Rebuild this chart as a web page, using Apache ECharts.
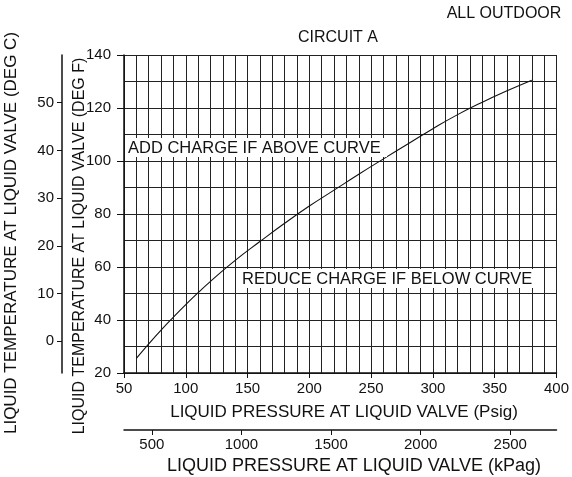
<!DOCTYPE html>
<html>
<head>
<meta charset="utf-8">
<script src="https://cdn.jsdelivr.net/npm/echarts@6/dist/echarts.min.js"></script>
<style>
  html, body { margin: 0; padding: 0; background: #fff; }
  #chart { width: 572px; height: 477px; }
</style>
</head>
<body>
<div id="chart"></div>
<script>
// Charging curve: liquid pressure (psig) vs liquid temperature (deg F)
const pressurePsig = [60, 70, 80, 90, 100, 110, 120, 140, 160, 180, 200, 220, 240, 260, 280, 300, 320, 340, 360, 380];
const tempF = [25.5, 31, 36.2, 41.1, 45.8, 50.3, 54.6, 62.5, 69.6, 76.5, 83, 89, 95, 100.8, 106.5, 112.2, 117.5, 122.2, 126.5, 130.5];

const psigTicks = [50, 100, 150, 200, 250, 300, 350, 400];
const degFTicks = [20, 40, 60, 80, 100, 120, 140];
const degCTicks = [0, 10, 20, 30, 40, 50];
const kPagTicks = [500, 1000, 1500, 2000, 2500];

const PSI_TO_KPA = 6.894757;
const F_MIN = 20, F_MAX = 140, P_MIN = 50, P_MAX = 400;
const GRID_STEP = 10;

const FONT = 'Liberation Sans, Arial, sans-serif';
const ink = '#111';

const chart = echarts.init(document.getElementById('chart'), null, { renderer: 'canvas' });

const tickLabel = { color: ink, fontFamily: FONT, fontSize: 15 };
const hidden = { axisLine: { show: false }, axisTick: { show: false }, axisLabel: { show: false } };

chart.setOption({
  backgroundColor: '#fff',
  animation: false,
  grid: { left: 124, right: 15, top: 55, bottom: 104 },
  xAxis: [
    {
      type: 'value', min: P_MIN, max: P_MAX,
      axisLine: { show: true, onZero: false, lineStyle: { color: ink, width: 1.5 } },
      axisTick: { show: true, length: 5, customValues: psigTicks, lineStyle: { color: ink } },
      axisLabel: Object.assign({ margin: 8, customValues: psigTicks }, tickLabel),
      splitLine: { show: false }
    },
    {
      type: 'value', position: 'bottom', offset: 57,
      min: P_MIN * PSI_TO_KPA, max: P_MAX * PSI_TO_KPA,
      axisLine: { show: true, onZero: false, lineStyle: { color: ink, width: 1.5 } },
      axisTick: { show: true, length: 5, customValues: kPagTicks, lineStyle: { color: ink } },
      axisLabel: Object.assign({ margin: 7, customValues: kPagTicks, formatter: v => String(v) }, tickLabel),
      splitLine: { show: false }
    },
    // 10 psig grid lines
    Object.assign({
      type: 'value', min: P_MIN, max: P_MAX, interval: GRID_STEP,
      splitLine: { show: true, lineStyle: { color: '#222', width: 1 } }
    }, hidden)
  ],
  yAxis: [
    {
      type: 'value', min: F_MIN, max: F_MAX,
      axisLine: { show: true, onZero: false, lineStyle: { color: ink, width: 1.5 } },
      axisTick: { show: true, length: 7, customValues: degFTicks, lineStyle: { color: ink } },
      axisLabel: Object.assign({ margin: 13, customValues: degFTicks }, tickLabel),
      splitLine: { show: false }
    },
    {
      type: 'value', position: 'left', offset: 62,
      min: (F_MIN - 32) * 5 / 9, max: (F_MAX - 32) * 5 / 9,
      axisLine: { show: true, onZero: false, lineStyle: { color: ink, width: 1.5 } },
      axisTick: { show: true, length: 5, customValues: degCTicks, lineStyle: { color: ink } },
      axisLabel: Object.assign({ margin: 8, customValues: degCTicks }, tickLabel),
      splitLine: { show: false }
    },
    // 10 deg F grid lines
    Object.assign({
      type: 'value', min: F_MIN, max: F_MAX, interval: GRID_STEP,
      splitLine: { show: true, lineStyle: { color: '#222', width: 1 } }
    }, hidden)
  ],
  series: [
    {
      type: 'line',
      xAxisIndex: 0, yAxisIndex: 0,
      data: pressurePsig.map((p, i) => [p, tempF[i]]),
      smooth: 0.5,
      symbol: 'none',
      lineStyle: { color: ink, width: 1.1 },
      z: 5
    }
  ],
  graphic: [
    // white boxes behind the in-plot notes
    { type: 'rect', shape: { x: 125, y: 138, width: 262, height: 19 }, style: { fill: '#fff' }, z: 50 },
    { type: 'text', x: 128, y: 148, z: 51,
      style: { text: 'ADD CHARGE IF ABOVE CURVE', font: '16.5px ' + FONT, fill: ink, align: 'left', verticalAlign: 'middle' } },
    { type: 'rect', shape: { x: 238, y: 269, width: 304, height: 19 }, style: { fill: '#fff' }, z: 50 },
    { type: 'text', x: 242, y: 279, z: 51,
      style: { text: 'REDUCE CHARGE IF BELOW CURVE', font: '16.5px ' + FONT, fill: ink, align: 'left', verticalAlign: 'middle' } },

    // header texts
    { type: 'text', x: 504, y: 14, z: 51,
      style: { text: 'ALL OUTDOOR', font: '16px ' + FONT, fill: ink, align: 'center', verticalAlign: 'middle' } },
    { type: 'text', x: 338, y: 38, z: 51,
      style: { text: 'CIRCUIT A', font: '16px ' + FONT, fill: ink, align: 'center', verticalAlign: 'middle' } },

    // axis titles
    { type: 'text', x: 344, y: 412, z: 51,
      style: { text: 'LIQUID PRESSURE AT LIQUID VALVE (Psig)', font: '17px ' + FONT, fill: ink, align: 'center', verticalAlign: 'middle' } },
    { type: 'text', x: 354, y: 466, z: 51,
      style: { text: 'LIQUID PRESSURE AT LIQUID VALVE (kPag)', font: '18px ' + FONT, fill: ink, align: 'center', verticalAlign: 'middle' } },
    { type: 'text', x: 80, y: 246, rotation: Math.PI / 2, z: 51,
      style: { text: 'LIQUID TEMPERATURE AT LIQUID VALVE (DEG F)', font: '16px ' + FONT, fill: ink, align: 'center', verticalAlign: 'middle' } },
    { type: 'text', x: 11, y: 233, rotation: Math.PI / 2, z: 51,
      style: { text: 'LIQUID TEMPERATURE AT LIQUID VALVE (DEG C)', font: '17px ' + FONT, fill: ink, align: 'center', verticalAlign: 'middle' } }
  ]
});
</script>
</body>
</html>
